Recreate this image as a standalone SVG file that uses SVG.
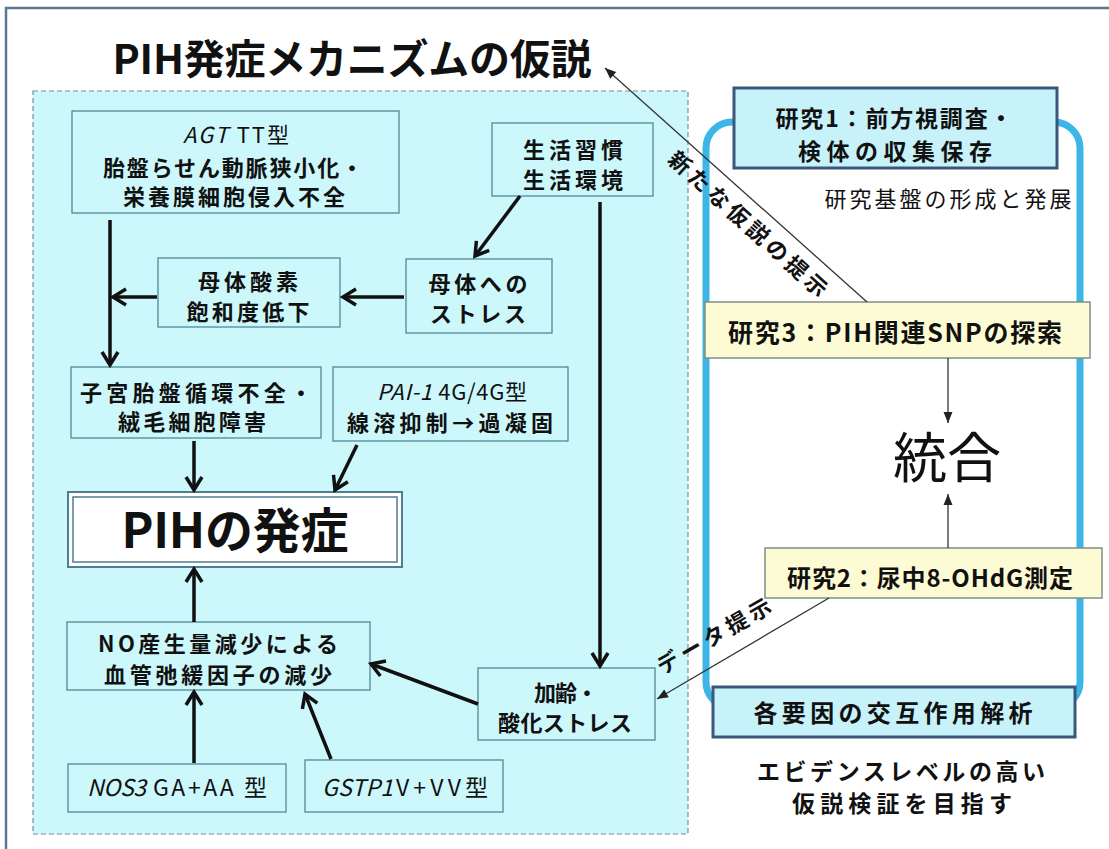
<svg xmlns="http://www.w3.org/2000/svg" width="1109" height="849" viewBox="0 0 1109 849">
<defs>
<style>
text{font-family:"Noto Sans CJK JP","Noto Sans",sans-serif;fill:#111;}
.b{font-weight:700;}
.t22{font-size:22px;}
.t23{font-size:23px;}
.box{fill:#cdf8fb;stroke:#4f8796;stroke-width:1.3;}
.yel{fill:#fdfbd3;stroke:#7f8f86;stroke-width:1.5;}
.cy{fill:#c8f2f9;stroke:#3b587a;stroke-width:3;}
.thick{stroke:#111;stroke-width:3.5;fill:none;marker-end:url(#ah);}
.thin{stroke:#333;stroke-width:1.3;fill:none;marker-end:url(#at);}
.it{font-style:italic;}
</style>
<marker id="ah" markerUnits="userSpaceOnUse" viewBox="-16 -11 20 22" markerWidth="20" markerHeight="22" refX="0" refY="0" orient="auto">
<path d="M-13,-8 L0,0 L-13,8" fill="none" stroke="#111" stroke-width="3.5"/>
</marker>
<marker id="at" markerUnits="userSpaceOnUse" viewBox="-12 -6 14 12" markerWidth="14" markerHeight="12" refX="0" refY="0" orient="auto">
<path d="M-11,-4.5 L0,0 L-11,4.5 Z" fill="#222"/>
</marker>
</defs>
<rect x="0" y="0" width="1109" height="849" fill="#ffffff"/>
<path d="M6,849 L6,8 L1109,8" fill="none" stroke="#5d7891" stroke-width="2.5"/>
<text x="352" y="74" class="b" font-size="41" text-anchor="middle" textLength="479">PIH発症メカニズムの仮説</text>
<rect id="panel" x="33" y="91" width="655" height="743" fill="#cdf8fb" stroke="#7c8c90" stroke-width="1.2" stroke-dasharray="5,3"/>

<g id="agt">
<rect class="box" x="72" y="111" width="327" height="102"/>
<text class="t22" x="236" y="143" text-anchor="middle" textLength="106"><tspan class="it">AGT</tspan> TT型</text>
<text class="b t22" x="233" y="176" text-anchor="middle" textLength="260">胎盤らせん動脈狭小化・</text>
<text class="b t22" x="234" y="205" text-anchor="middle" textLength="222">栄養膜細胞侵入不全</text>
</g>
<g id="lifestyle">
<rect class="box" x="492" y="123" width="161" height="73"/>
<text class="b t22" x="573" y="158" text-anchor="middle" textLength="100">生活習慣</text>
<text class="b t22" x="573" y="188" text-anchor="middle" textLength="100">生活環境</text>
</g>
<g id="oxygen">
<rect class="box" x="158" y="258" width="182" height="69"/>
<text class="b t22" x="248" y="290" text-anchor="middle" textLength="100">母体酸素</text>
<text class="b t22" x="248" y="320" text-anchor="middle" textLength="123">飽和度低下</text>
</g>
<g id="stress">
<rect class="box" x="406" y="259" width="146" height="74"/>
<text class="b t22" x="478" y="292" text-anchor="middle" textLength="99">母体への</text>
<text class="b t22" x="478" y="322" text-anchor="middle" textLength="96">ストレス</text>
</g>
<g id="uterine">
<rect class="box" x="71" y="367" width="250" height="71"/>
<text class="b t22" x="196" y="401" text-anchor="middle" textLength="232">子宮胎盤循環不全・</text>
<text class="b t22" x="192" y="430" text-anchor="middle" textLength="148">絨毛細胞障害</text>
</g>
<g id="pai">
<rect class="box" x="333" y="367" width="235" height="74"/>
<text class="t22" x="452" y="400" text-anchor="middle" textLength="150"><tspan class="it">PAI-1</tspan> 4G/4G型</text>
<text class="b t22" x="450" y="431" text-anchor="middle" textLength="206">線溶抑制→過凝固</text>
</g>
<g id="onset">
<rect x="68" y="492" width="334" height="75" fill="#ffffff" stroke="#4f7d93" stroke-width="2"/>
<rect x="73" y="497" width="324" height="65" fill="none" stroke="#4f7d93" stroke-width="1.5"/>
<text x="235" y="548" class="b" font-size="48" text-anchor="middle" textLength="227">PIHの発症</text>
</g>
<g id="no">
<rect class="box" x="67" y="622" width="303" height="68"/>
<text class="b t22" x="218" y="652" text-anchor="middle" textLength="240">NO産生量減少による</text>
<text class="b t22" x="218" y="683" text-anchor="middle" textLength="228">血管弛緩因子の減少</text>
</g>
<g id="aging">
<rect class="box" x="478" y="668" width="177" height="72"/>
<text class="b t22" x="566" y="701" text-anchor="middle" textLength="64">加齢・</text>
<text class="b t22" x="565" y="731" text-anchor="middle" textLength="134">酸化ストレス</text>
</g>
<g id="nos3">
<rect class="box" x="68" y="764" width="218" height="48"/>
<text class="t23 it" x="87" y="796" textLength="59">NOS3</text>
<text class="t23" x="153" y="796" textLength="114">GA+AA 型</text>
</g>
<g id="gstp1">
<rect class="box" x="305" y="760" width="198" height="52"/>
<text class="t23 it" x="322" y="796" textLength="71">GSTP1</text>
<text class="t23" x="396" y="796" textLength="92">V+VV型</text>
</g>

<rect id="frame" x="706" y="122" width="374" height="586" rx="26" fill="#ffffff" stroke="#3cb5e7" stroke-width="7"/>
<g id="study1">
<rect class="cy" x="734" y="88" width="323" height="80"/>
<text class="b t23" x="894" y="127" text-anchor="middle" textLength="237">研究1：前方視調査・</text>
<text class="b t23" x="895" y="160" text-anchor="middle" textLength="194">検体の収集保存</text>
</g>
<text x="948" y="207" font-size="22" text-anchor="middle" textLength="247">研究基盤の形成と発展</text>
<g id="study3">
<rect class="yel" x="705" y="302" width="385" height="56"/>
<text class="b" font-size="25" x="895" y="342" text-anchor="middle" textLength="334">研究3：PIH関連SNPの探索</text>
</g>
<g id="integration">
<text x="947" y="478" font-size="54" text-anchor="middle">統合</text>
</g>
<g id="study2">
<rect class="yel" x="765" y="548" width="337" height="50"/>
<text class="b" font-size="24" x="930" y="587" text-anchor="middle" textLength="286">研究2：尿中8-OHdG測定</text>
</g>
<g id="interaction">
<rect class="cy" x="713" y="687" width="362" height="50"/>
<text class="b" font-size="24" x="893" y="722" text-anchor="middle" textLength="279">各要因の交互作用解析</text>
</g>
<text class="b t23" x="901" y="780" text-anchor="middle" textLength="288">エビデンスレベルの高い</text>
<text class="b t23" x="902" y="812" text-anchor="middle" textLength="220">仮説検証を目指す</text>

<g id="connectors">
<line class="thick" x1="110" y1="220" x2="110" y2="365"/>
<line class="thick" x1="157" y1="297" x2="113" y2="297"/>
<line class="thick" x1="404" y1="297" x2="343" y2="297"/>
<line class="thick" x1="520" y1="196" x2="475" y2="256"/>
<line class="thick" x1="600" y1="202" x2="600" y2="666"/>
<line class="thick" x1="194" y1="441" x2="194" y2="490"/>
<line class="thick" x1="357" y1="445" x2="335" y2="490"/>
<line class="thick" x1="194" y1="622" x2="194" y2="569"/>
<line class="thick" x1="194" y1="763" x2="194" y2="692"/>
<line class="thick" x1="331" y1="759" x2="305" y2="694"/>
<line class="thick" x1="478" y1="704" x2="371" y2="664"/>
<line class="thin" x1="867" y1="302" x2="605" y2="68"/>
<line class="thin" x1="948" y1="358" x2="948" y2="423"/>
<line class="thin" x1="948" y1="548" x2="948" y2="494"/>
<line class="thin" x1="829" y1="598" x2="657" y2="699"/>
<text class="b" font-size="22" transform="translate(748,224) rotate(42)" x="0" y="8" text-anchor="middle" textLength="205">新たな仮説の提示</text>
<text class="b" font-size="22" transform="translate(714,636) rotate(-30)" x="0" y="8" text-anchor="middle" textLength="128">データ提示</text>
</g>
</svg>
